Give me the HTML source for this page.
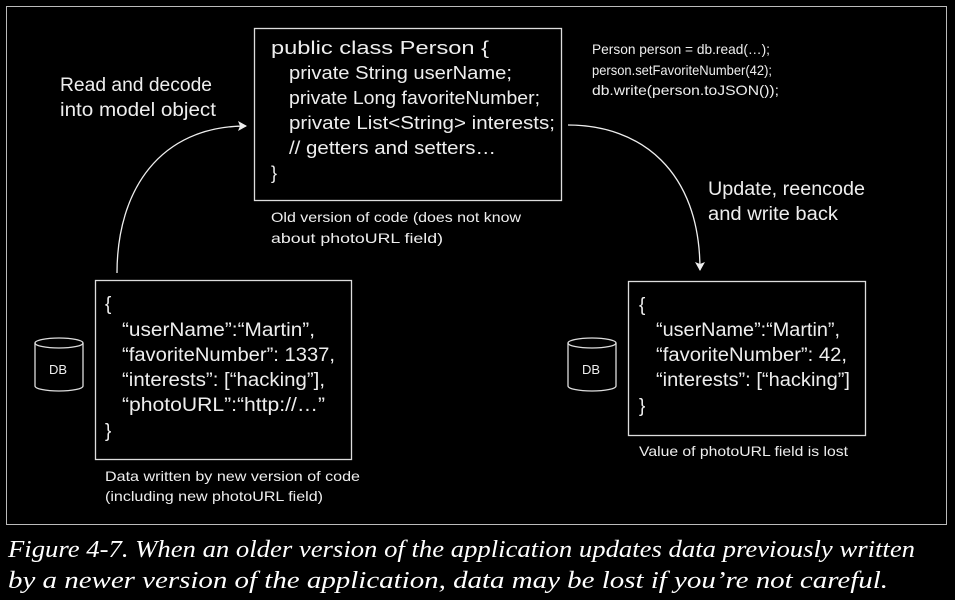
<!DOCTYPE html>
<html><head><meta charset="utf-8"><style>
html,body{margin:0;padding:0;background:#000;}
svg{display:block;}
text{font-family:"Liberation Sans",sans-serif;fill:#eee;}
.i{font-family:"Liberation Serif",serif;font-style:italic;fill:#fff;}
</style></head><body>
<svg width="955" height="600" viewBox="0 0 955 600" xmlns="http://www.w3.org/2000/svg">
<rect x="0" y="0" width="955" height="600" fill="#000"/>
<rect x="6.5" y="6.5" width="940" height="518" fill="none" stroke="#bbb" stroke-width="1"/>
<defs><marker id="a" markerWidth="10" markerHeight="10" refX="8" refY="5" orient="auto" markerUnits="userSpaceOnUse"><path d="M0,0 L9,5 L0,10 L2,5 Z" fill="#eee"/></marker></defs>
<!-- code box -->
<rect x="254.5" y="28.5" width="307" height="172" fill="none" stroke="#ddd" stroke-width="1.3"/>
<g font-size="18" lengthAdjust="spacingAndGlyphs">
<text x="271" y="54" textLength="218" lengthAdjust="spacingAndGlyphs">public class Person {</text>
<text x="289" y="79" textLength="223" lengthAdjust="spacingAndGlyphs">private String userName;</text>
<text x="289" y="104" textLength="251" lengthAdjust="spacingAndGlyphs">private Long favoriteNumber;</text>
<text x="289" y="129" textLength="266" lengthAdjust="spacingAndGlyphs">private List&lt;String&gt; interests;</text>
<text x="289" y="154" textLength="207" lengthAdjust="spacingAndGlyphs">// getters and setters…</text>
<text x="271" y="179">}</text>
</g>
<text x="271" y="222" font-size="14" textLength="250" lengthAdjust="spacingAndGlyphs">Old version of code (does not know</text>
<text x="271" y="243" font-size="14" textLength="172" lengthAdjust="spacingAndGlyphs">about photoURL field)</text>
<text x="592" y="54" font-size="14" textLength="178" lengthAdjust="spacingAndGlyphs">Person person = db.read(…);</text>
<text x="592" y="75" font-size="14" textLength="180" lengthAdjust="spacingAndGlyphs">person.setFavoriteNumber(42);</text>
<text x="592" y="95" font-size="14" textLength="187" lengthAdjust="spacingAndGlyphs">db.write(person.toJSON());</text>
<text x="60" y="91" font-size="19" textLength="152" lengthAdjust="spacingAndGlyphs">Read and decode</text>
<text x="60" y="116" font-size="19" textLength="156" lengthAdjust="spacingAndGlyphs">into model object</text>
<text x="708" y="195" font-size="19" textLength="157" lengthAdjust="spacingAndGlyphs">Update, reencode</text>
<text x="708" y="220" font-size="19" textLength="130" lengthAdjust="spacingAndGlyphs">and write back</text>
<!-- arrows -->
<path d="M117,273 C117,190 160,126 246,126" fill="none" stroke="#eee" stroke-width="1.3" marker-end="url(#a)"/>
<path d="M568,125 C640,125 700,170 700,270" fill="none" stroke="#eee" stroke-width="1.3" marker-end="url(#a)"/>
<!-- left json -->
<rect x="95.5" y="280.5" width="256" height="179" fill="none" stroke="#ddd" stroke-width="1.3"/>
<text x="105" y="310" font-size="19">{</text>
<text x="122" y="336" font-size="19" textLength="193" lengthAdjust="spacingAndGlyphs">“userName”:“Martin”,</text>
<text x="122" y="361" font-size="19" textLength="213" lengthAdjust="spacingAndGlyphs">“favoriteNumber”: 1337,</text>
<text x="122" y="386" font-size="19" textLength="203" lengthAdjust="spacingAndGlyphs">“interests”: [“hacking”],</text>
<text x="122" y="411" font-size="19" textLength="203" lengthAdjust="spacingAndGlyphs">“photoURL”:“http://…”</text>
<text x="105" y="437" font-size="19">}</text>
<text x="105" y="481" font-size="14" textLength="255" lengthAdjust="spacingAndGlyphs">Data written by new version of code</text>
<text x="105" y="501" font-size="14" textLength="218" lengthAdjust="spacingAndGlyphs">(including new photoURL field)</text>
<!-- left DB -->
<g fill="none" stroke="#ddd" stroke-width="1.3">
<ellipse cx="59" cy="343" rx="24" ry="5"/>
<path d="M35,343 L35,386 A24,5 0 0 0 83,386 L83,343"/>
<ellipse cx="592" cy="343" rx="24" ry="5"/>
<path d="M568,343 L568,386 A24,5 0 0 0 616,386 L616,343"/>
</g>
<text x="49" y="374" font-size="13">DB</text>
<text x="582" y="374" font-size="13">DB</text>
<!-- right json -->
<rect x="628.5" y="281.5" width="237" height="154" fill="none" stroke="#ddd" stroke-width="1.3"/>
<text x="639" y="311" font-size="19">{</text>
<text x="656" y="336" font-size="19" textLength="184" lengthAdjust="spacingAndGlyphs">“userName”:“Martin”,</text>
<text x="656" y="361" font-size="19" textLength="191" lengthAdjust="spacingAndGlyphs">“favoriteNumber”: 42,</text>
<text x="656" y="386" font-size="19" textLength="194" lengthAdjust="spacingAndGlyphs">“interests”: [“hacking”]</text>
<text x="639" y="412" font-size="19">}</text>
<text x="639" y="456" font-size="14" textLength="209" lengthAdjust="spacingAndGlyphs">Value of photoURL field is lost</text>
<!-- caption -->
<text class="i" x="8" y="557" font-size="24" textLength="907" lengthAdjust="spacingAndGlyphs">Figure 4-7. When an older version of the application updates data previously written</text>
<text class="i" x="8" y="588" font-size="24" textLength="880" lengthAdjust="spacingAndGlyphs">by a newer version of the application, data may be lost if you’re not careful.</text>
</svg>
</body></html>
